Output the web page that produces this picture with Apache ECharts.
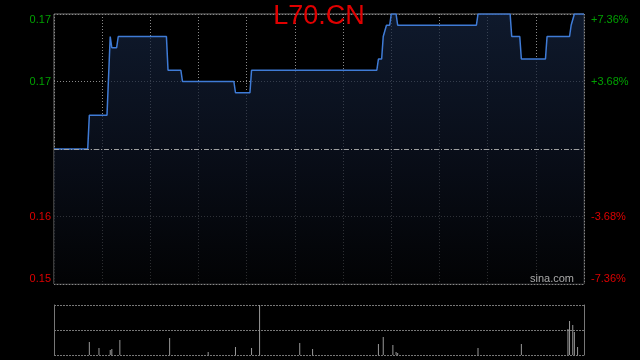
<!DOCTYPE html>
<html><head><meta charset="utf-8">
<script src="https://cdn.jsdelivr.net/npm/echarts@6/dist/echarts.min.js"></script>
<style>html,body{margin:0;padding:0;background:#000;}#c{width:640px;height:360px;}</style>
</head><body><div id="c"></div>
<script>
const symbol = 'L70.CN';
const prevClose = 0.163;
const pctTicks = [-7.36, -3.68, 0, 3.68, 7.36];
// minute index (0..330) and price at each change point
const priceTimes = [0, 21, 22, 33, 35, 36, 39, 40, 70, 71, 79, 80, 112, 113, 122, 123, 201, 202, 204, 205, 206, 207, 209, 210, 213, 214, 263, 264, 284, 285, 290, 291, 306, 307, 321, 322, 323, 324, 330];
const prices     = [0.163, 0.163, 0.166, 0.166, 0.173, 0.172, 0.172, 0.173, 0.173, 0.170, 0.170, 0.169, 0.169, 0.168, 0.168, 0.170, 0.170, 0.171, 0.171, 0.173, 0.173, 0.174, 0.174, 0.175, 0.175, 0.174, 0.174, 0.175, 0.175, 0.173, 0.173, 0.171, 0.171, 0.173, 0.173, 0.174, 0.174, 0.175, 0.175];
// volume (thousands of shares)
const volTimes = [22, 28, 35, 36, 41, 72, 96, 113, 123, 128, 153, 161, 202, 205, 211, 213, 214, 264, 291, 320, 321, 323, 324, 326];
const volumes  = [13, 7, 5, 6, 15, 17, 3, 8, 7, 80, 12, 6, 11, 18, 10, 3, 2, 7, 11, 26, 34, 30, 23, 8];

const lineData = priceTimes.map((t, i) => [t, prices[i]]);
const volData = volTimes.map((t, i) => [t, volumes[i]]);
const maxPct = pctTicks[pctTicks.length - 1];
const tEnd = priceTimes[priceTimes.length - 1];

const chart = echarts.init(document.getElementById('c'), null, {renderer: 'canvas'});
const gridColor = '#8a8a8a';
chart.setOption({
  backgroundColor: '#000',
  animation: false,
  graphic: [
    {type: 'text', x: 319, y: 17, silent: true, z: 10,
     style: {text: symbol, fill: '#e00000', font: '27px "Liberation Sans", Arial, sans-serif', textAlign: 'center', textVerticalAlign: 'middle'}},
    {type: 'text', x: 574, y: 279, silent: true, z: 10,
     style: {text: 'sina.com', fill: '#aaaaaa', font: '11px "Liberation Sans", Arial, sans-serif', textAlign: 'right', textVerticalAlign: 'middle'}}
  ],
  grid: [
    {left: 54, top: 14, width: 530, height: 270, show: true, borderColor: '#777', borderWidth: 1, backgroundColor: 'transparent'},
    {left: 54, top: 305, width: 530, height: 50, show: false}
  ],
  xAxis: [
    {type: 'value', gridIndex: 0, min: 0, max: 330, interval: 30,
     axisLine: {show: false}, axisTick: {show: false}, axisLabel: {show: false},
     splitLine: {show: true, lineStyle: {color: gridColor, type: [1, 2], width: 1}}},
    {type: 'value', gridIndex: 1, min: 0, max: 330, interval: 30,
     axisLine: {show: false}, axisTick: {show: false}, axisLabel: {show: false}, splitLine: {show: false}}
  ],
  yAxis: [
    {type: 'value', gridIndex: 0, position: 'left', min: -maxPct, max: maxPct, interval: 3.68,
     axisLine: {show: false}, axisTick: {show: false},
     splitLine: {show: true, lineStyle: {color: gridColor, type: [1, 2], width: 1}},
     axisLabel: {show: true, margin: 3, fontSize: 11, fontFamily: '"Liberation Sans", Arial, sans-serif',
       verticalAlignMaxLabel: 'top', verticalAlignMinLabel: 'bottom',
       formatter: v => Math.abs(v) < 1e-9 ? '' : (v > 0 ? '{g|' : '{r|') + (prevClose * (1 + v / 100)).toFixed(2) + '}',
       rich: {g: {color: '#00a000', fontSize: 11}, r: {color: '#dd0000', fontSize: 11}}}},
    {type: 'value', gridIndex: 0, position: 'right', min: -maxPct, max: maxPct, interval: 3.68,
     axisLine: {show: false}, axisTick: {show: false}, splitLine: {show: false},
     axisLabel: {show: true, margin: 7, fontSize: 11, fontFamily: '"Liberation Sans", Arial, sans-serif',
       verticalAlignMaxLabel: 'top', verticalAlignMinLabel: 'bottom',
       formatter: v => Math.abs(v) < 1e-9 ? '' : (v > 0 ? '{g|+' + v.toFixed(2) + '%}' : '{r|' + v.toFixed(2) + '%}'),
       rich: {g: {color: '#00a000', fontSize: 11}, r: {color: '#dd0000', fontSize: 11}}}},
    {type: 'value', gridIndex: 0, min: +(prevClose * (1 - maxPct / 100)).toFixed(3), max: +(prevClose * (1 + maxPct / 100)).toFixed(3),
     show: false, splitLine: {show: false}},
    {type: 'value', gridIndex: 1, position: 'left', min: 0, max: 50, interval: 25,
     axisLine: {show: true, lineStyle: {color: '#777'}}, axisTick: {show: false}, axisLabel: {show: false},
     splitLine: {show: true, lineStyle: {color: '#777', type: [2, 1], width: 1}}},
    {type: 'value', gridIndex: 1, position: 'right', min: 0, max: 50, interval: 25,
     axisLine: {show: true, lineStyle: {color: '#777'}}, axisTick: {show: false}, axisLabel: {show: false}, splitLine: {show: false}}
  ],
  series: [
    {type: 'line', xAxisIndex: 0, yAxisIndex: 2, data: lineData, showSymbol: false, symbol: 'none',
     lineStyle: {color: '#3f7bd6', width: 1.5},
     areaStyle: {origin: 'start', color: new echarts.graphic.LinearGradient(0, 0, 0, 1, [
       {offset: 0, color: '#15243f'}, {offset: 0.5, color: '#0d1424'}, {offset: 1, color: '#030406'}])},
     markLine: {silent: true, symbol: 'none', label: {show: false},
       lineStyle: {color: '#a0a0a0', type: [5, 2, 1, 2], width: 1},
       data: [[{coord: [0, prevClose]}, {coord: [tEnd, prevClose]}]]}},
    {type: 'bar', xAxisIndex: 1, yAxisIndex: 4, data: volData, barWidth: 1, clip: true,
     itemStyle: {color: '#999999'}}
  ]
});
</script></body></html>
